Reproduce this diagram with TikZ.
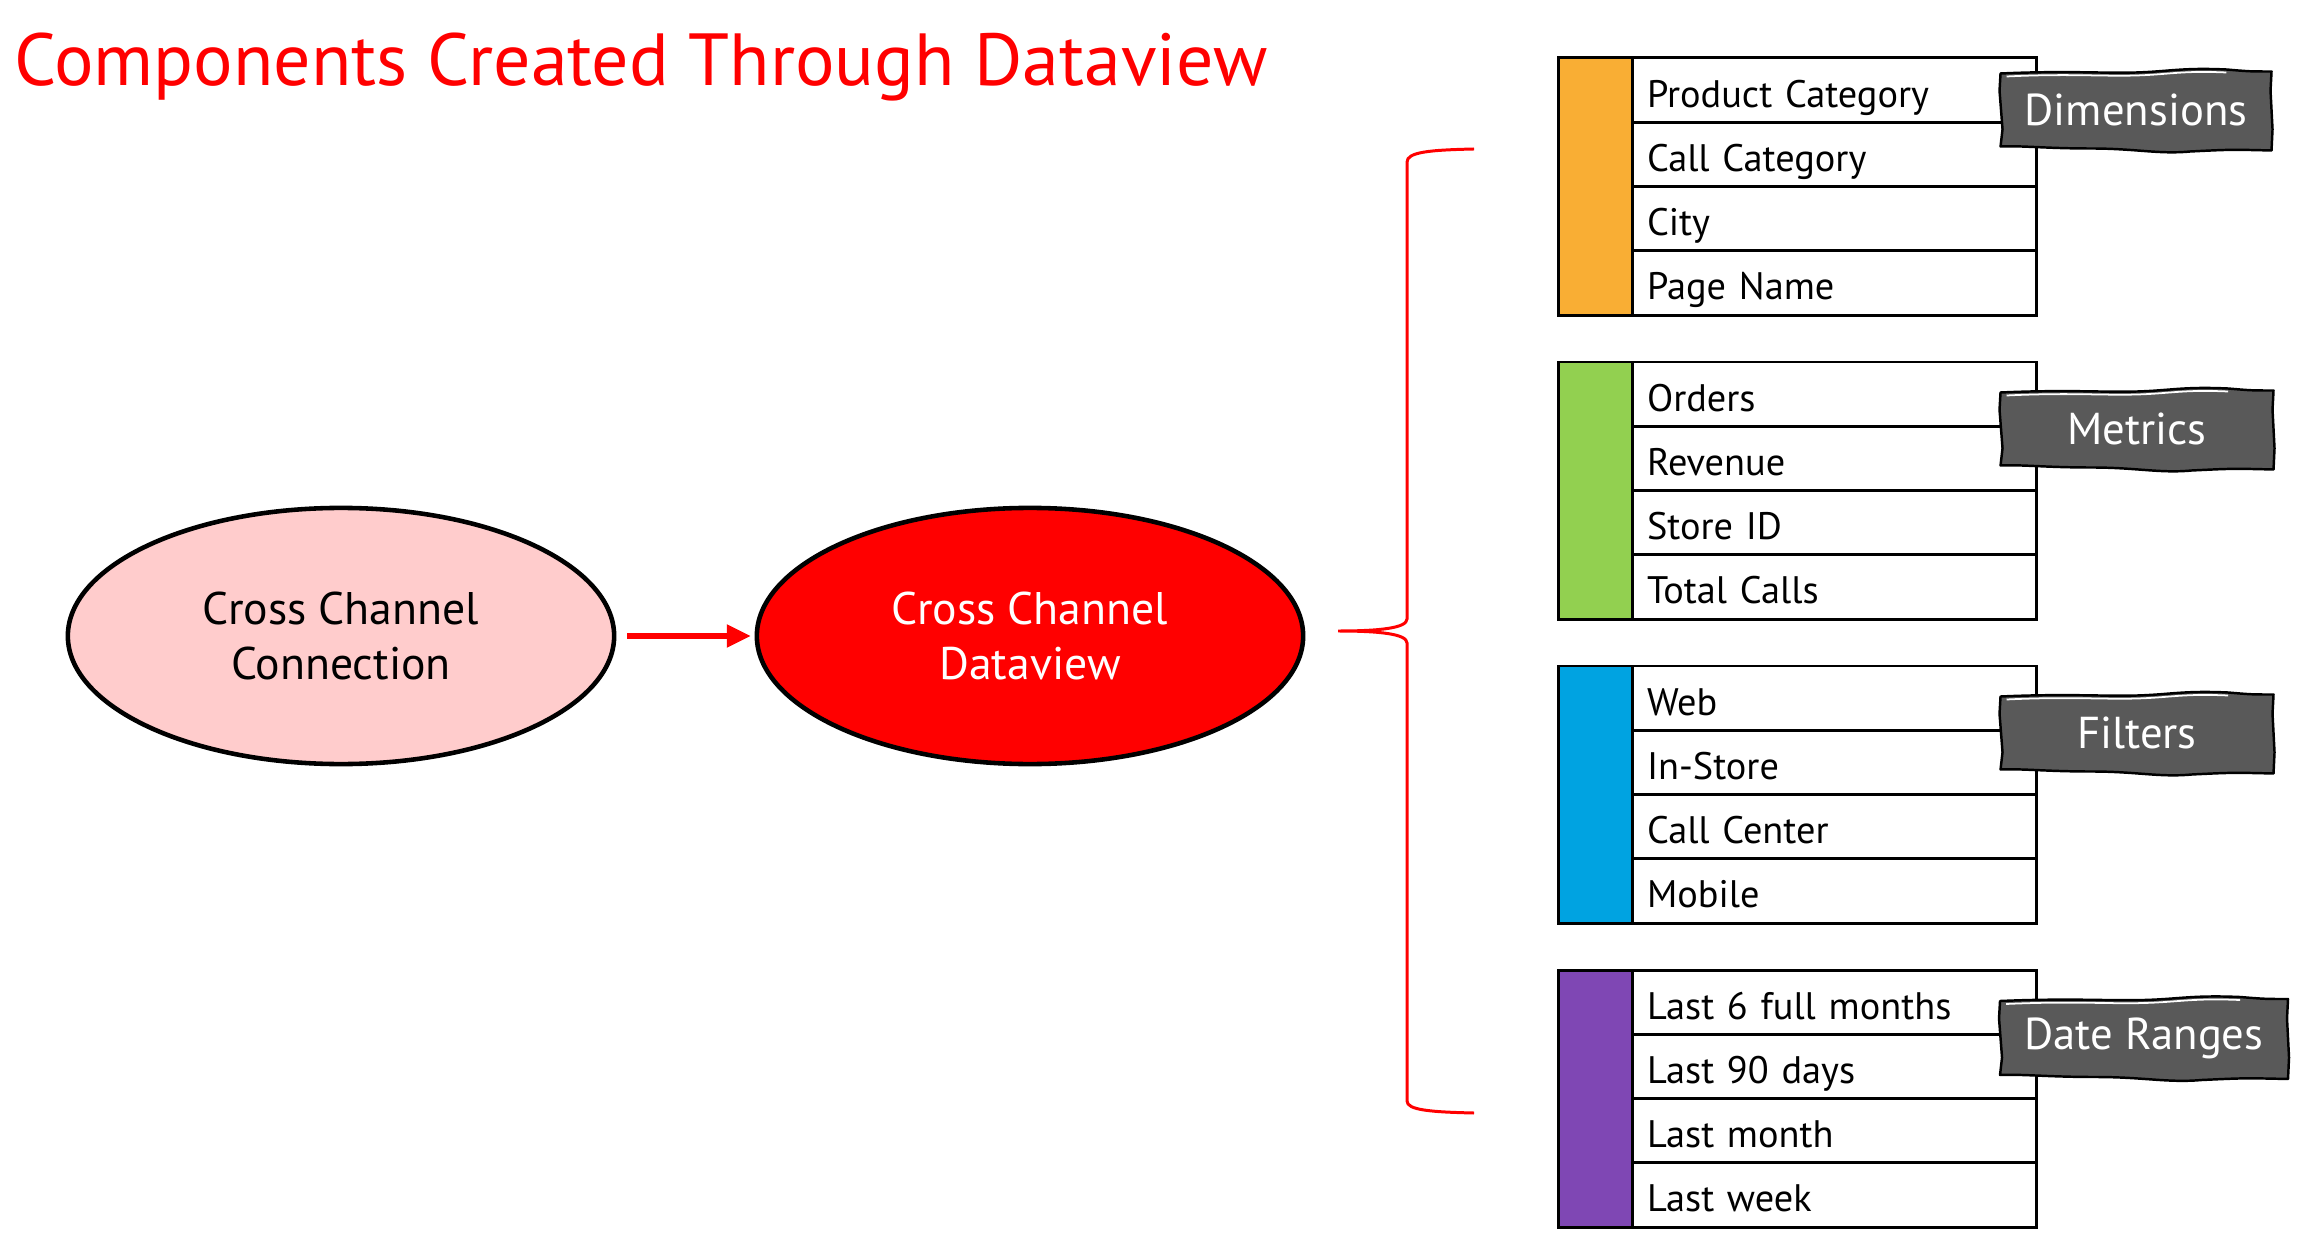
\documentclass[tikz,border=0pt]{standalone}
\usepackage{fontspec}
\setmainfont{PT Sans}
\usetikzlibrary{arrows.meta,shapes.geometric,calc}
\definecolor{dimC}{HTML}{F9AE34}
\definecolor{metC}{HTML}{92D050}
\definecolor{filC}{HTML}{00A3E1}
\definecolor{datC}{HTML}{7F47B4}
\definecolor{pinkC}{HTML}{FFCCCC}
\definecolor{redC}{HTML}{FF0000}
\definecolor{tagC}{HTML}{595959}
\tikzset{
  rowbox/.style={draw, line width=0.85pt, anchor=north west, outer sep=0pt,
    minimum height=0.6425cm, text width=3.74cm, inner xsep=0.15cm, inner ysep=0pt,
    align=left, text height=9.6pt, text depth=0pt, font=\fontsize{10.9}{13}\selectfont},
  barbox/.style={draw, line width=0.85pt, anchor=north west, outer sep=0pt, inner sep=0pt,
    minimum width=0.74cm, minimum height=2.57cm},
  ellnode/.style={ellipse, draw, line width=1.3pt, inner sep=0pt, outer sep=0pt,
    minimum width=5.46cm, minimum height=2.56cm, align=center,
    font=\fontsize{13}{15.6}\selectfont},
  tagshape/.style={fill=tagC, draw=black, line width=0.7pt, line join=round},
  tagtext/.style={text=white, inner sep=0pt, font=\fontsize{12.7}{15}\selectfont},
  titletext/.style={text=redC, inner sep=0pt, font=\fontsize{21}{25}\selectfont},
  bracestyle/.style={draw=redC, line width=0.85pt},
  flowarrow/.style={draw=redC, line width=1.5pt, -{Triangle[length=0.24cm,width=0.22cm]},
    shorten <=0.13cm, shorten >=0.06cm}
}
\newcommand\tornbox[6]{%
  \begin{scope}[shift={(#2,#3)}]
    \filldraw[tagshape]
      ({-#4/2},{-#5/2+2}) .. controls ({-#4/4},{-#5/2-1}) and ({-#4/8},{-#5/2+2}) .. (0,{-#5/2+1})
      .. controls ({#4/8},{-#5/2}) and ({#4/6},{-#5/2-4}) .. ({#4/3},{-#5/2-2})
      .. controls ({#4*0.42},{-#5/2}) .. ({#4/2},{-#5/2})
      -- ({#4/2-1},{-#5/4}) -- ({#4/2+1},{#5/4}) -- ({#4/2},{#5/2+2})
      .. controls ({#4*0.35},{#5/2+1}) .. ({#4/5},{#5/2+3})
      .. controls ({#4/12},{#5/2+6}) and (0,{#5/2}) .. ({-#4/6},{#5/2})
      .. controls ({-#4/3},{#5/2}) and ({-#4*0.42},{#5/2-3}) .. ({-#4/2},{#5/2-2})
      -- ({-#4/2+2},{#5/4}) -- ({-#4/2-1},{-#5/4}) -- cycle;
    \draw[white, line width=0.5pt]
      ({-#4/2+6},{-#5/2+5}) .. controls ({-#4/4},{-#5/2+2}) and ({-#4/8},{-#5/2+5}) .. (0,{-#5/2+4})
      .. controls ({#4/8},{-#5/2+3}) and ({#4/6},{-#5/2-1}) .. ({#4/3},{-#5/2+1});
  \end{scope}
  \node[tagtext] (#1) at (#2,#3) {#6};
}
\newcommand\tablegroup[7]{%
  \node[barbox, fill=#3] (#1bar) at (1558,#2) {};
  \node[rowbox] (#1r1) at (1632,#2) {#4};
  \node[rowbox] (#1r2) at (1632,{#2+64.25}) {#5};
  \node[rowbox] (#1r3) at (1632,{#2+128.5}) {#6};
  \node[rowbox] (#1r4) at (1632,{#2+192.75}) {#7};
}
\begin{document}
\begin{tikzpicture}[x=0.01cm, y=-0.01cm]
\useasboundingbox (0,0) rectangle (2316,1234);

\node[titletext, anchor=base west] (title) at (14,86) {Components Created Through Dataview};

\node[ellnode, fill=pinkC] (conn) at (341,636) {Cross Channel\\Connection};
\node[ellnode, fill=redC, text=white] (dv) at (1030,636) {Cross Channel\\Dataview};
\draw[flowarrow] (conn) -- (dv);

\coordinate (btip) at (1338,631);
\coordinate (btop) at (1474,149);
\coordinate (bbot) at (1474,1113);
\draw[bracestyle] (btop) .. controls (1430,150) and (1407,152) .. (1407,162)
  -- (1407,619) .. controls (1407,628) and (1380,631) .. (btip)
  .. controls (1380,631) and (1407,634) .. (1407,643)
  -- (1407,1101) .. controls (1407,1110) and (1430,1112) .. (bbot);

\tablegroup{d}{58}{dimC}{Product Category}{Call Category}{City}{Page Name}
\tablegroup{m}{362}{metC}{Orders}{Revenue}{Store ID}{Total Calls}
\tablegroup{f}{666}{filC}{Web}{In-Store}{Call Center}{Mobile}
\tablegroup{r}{970}{datC}{Last 6 full months}{Last 90 days}{Last month}{Last week}

\tornbox{dimtag}{2136}{110}{271}{77}{Dimensions}
\tornbox{mettag}{2137}{429}{273}{77}{Metrics}
\tornbox{filtag}{2137}{733}{273}{77}{Filters}
\tornbox{dattag}{2144}{1038}{288}{78}{Date Ranges}
\end{tikzpicture}
\end{document}
